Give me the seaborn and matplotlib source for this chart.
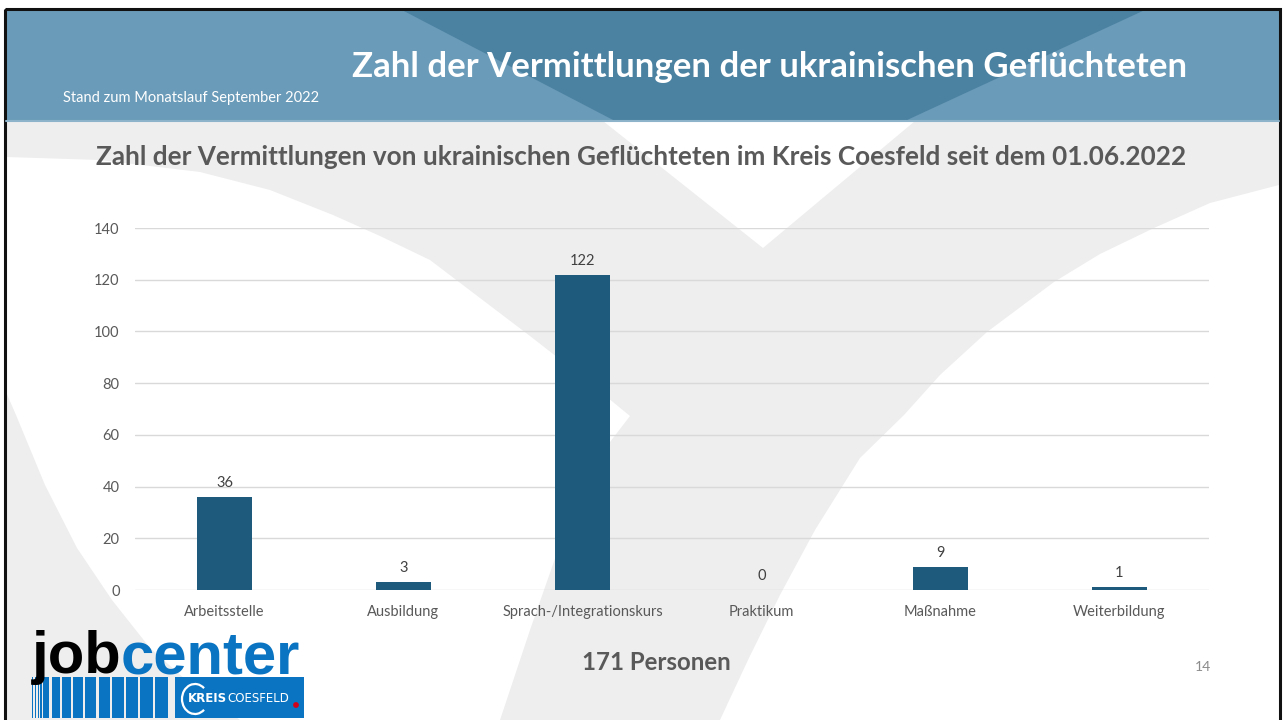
import numpy as np
import pandas as pd
import matplotlib
matplotlib.use("Agg")
import matplotlib.pyplot as plt
from matplotlib.patches import Polygon, Rectangle, Arc, Circle
import seaborn as sns

# data
categories = ["Arbeitsstelle", "Ausbildung", "Sprach-/Integrationskurs",
              "Praktikum", "Maßnahme", "Weiterbildung"]
values = [36, 3, 122, 0, 9, 1]
y_ticks = [0, 20, 40, 60, 80, 100, 120, 140]

header_title = "Zahl der Vermittlungen der ukrainischen Geflüchteten"
header_sub = "Stand zum Monatslauf September 2022"
chart_title = "Zahl der Vermittlungen von ukrainischen Geflüchteten im Kreis Coesfeld seit dem 01.06.2022"
total_label = "171 Personen"
page_no = "14"

W, H = 1284, 720
bar_color = "#1e5a7b"
text_gray = "#595959"

sns.set_theme(style="white")
plt.rcParams["font.family"] = ["Lato", "DejaVu Sans"]

fig = plt.figure(figsize=(W / 100, H / 100), dpi=100)
fig.patch.set_facecolor("white")

# background layer in pixel coordinates (y downwards)
bg = fig.add_axes([0, 0, 1, 1], zorder=0)
bg.set_xlim(0, W)
bg.set_ylim(H, 0)
bg.axis("off")

gray = "#eeeeee"
# big swoosh: top-left arm, V notch, right arm
swoosh = [(6, 121), (603, 121), (763, 248), (915, 121), (1279, 121), (1279, 185),
          (1210, 203), (1154, 228), (1100, 254), (1054, 282), (987, 332), (940, 375),
          (904, 415), (860, 458), (815, 530), (780, 595), (748, 660), (720, 720),
          (500, 720), (530, 630), (565, 530), (600, 455), (630, 416),
          (580, 375), (530, 336), (480, 298), (430, 260), (380, 236), (333, 215),
          (270, 190), (200, 172), (100, 160), (6, 157)]
bg.add_patch(Polygon(swoosh, closed=True, facecolor=gray, edgecolor="none"))
lower_left = [(6, 392), (16, 415), (45, 485), (77, 548), (112, 600), (150, 648),
              (195, 688), (240, 720), (6, 720)]
bg.add_patch(Polygon(lower_left, closed=True, facecolor=gray, edgecolor="none"))

# header band
bg.add_patch(Rectangle((6, 9), 1273, 112, facecolor="#6a9bb8", edgecolor="none"))
bg.add_patch(Polygon([(400, 9), (1147, 9), (905, 121), (615, 121)], closed=True,
                     facecolor="#4b82a1", edgecolor="none"))
bg.plot([6, 1279], [120.5, 120.5], color="#8db3ca", lw=1.5)

# slide frame
bg.add_patch(Rectangle((5, 9), 1275, 715, facecolor="none", edgecolor="#111111", lw=2.2))

# logo: striped banner + blue plate
logo_blue = "#0a74c2"
x = 32
for w in [1.2, 1.2, 1.2, 1.5]:
    bg.add_patch(Rectangle((x, 677), w, 41, facecolor=logo_blue, edgecolor="none"))
    x += w + 1.6
for w in [6, 8, 9, 10, 11, 11, 12, 12, 13, 13]:
    if x + w > 173:
        w = 173 - x
    bg.add_patch(Rectangle((x, 677), w, 41, facecolor=logo_blue, edgecolor="none"))
    x += w + 2.2
bg.add_patch(Rectangle((175, 677), 129, 41, facecolor=logo_blue, edgecolor="none"))
bg.add_patch(Arc((195, 699), 26, 30, theta1=50, theta2=310, color="white", lw=1.6))
bg.add_patch(Circle((296, 705), 2.2, color="#d0021b"))


def px(xp, yp):
    return xp / W, 1 - yp / H


renderer = fig.canvas.get_renderer()
t_job = fig.text(*px(32, 673), "job", fontsize=43, fontweight="bold",
                 color="black", family="Liberation Sans", va="baseline")
bb = t_job.get_window_extent(renderer)
fig.text(bb.x1 / W - 0.001, 1 - 673 / H, "center", fontsize=43, fontweight="bold",
         color=logo_blue, family="Liberation Sans", va="baseline")
t_kreis = fig.text(*px(188, 699), "KREIS", fontsize=8.5, fontweight="bold",
                   color="white", va="center", family="Liberation Sans Narrow")
bb = t_kreis.get_window_extent(renderer)
fig.text(bb.x1 / W, 1 - 699 / H, "COESFELD", fontsize=8.5, color="white",
         va="center", family="Liberation Sans Narrow")

# header and titles
fig.text(*px(770, 67), header_title, fontsize=25, fontweight="bold", color="white",
         ha="center", va="center")
fig.text(*px(63, 98), header_sub, fontsize=10.5, color="white", ha="left", va="center")
fig.text(*px(641, 157), chart_title, fontsize=18.8, fontweight="bold", color=text_gray,
         ha="center", va="center")
fig.text(*px(656, 663), total_label, fontsize=17.3, fontweight="bold", color=text_gray,
         ha="center", va="center")
fig.text(*px(1203, 667), page_no, fontsize=10, color="#8c8c8c", ha="center", va="center")

# the chart itself
df = pd.DataFrame({"Kategorie": categories, "Anzahl": values})
ax = fig.add_axes([135 / W, 1 - 590 / H, (1209 - 135) / W, (590 - 228) / H], zorder=2)
ax.patch.set_alpha(0)
sns.barplot(data=df, x="Kategorie", y="Anzahl", color=bar_color, width=0.31,
            saturation=1, linewidth=0, ax=ax, zorder=3)
ax.bar_label(ax.containers[0], labels=[str(v) for v in values], padding=5,
             fontsize=10.5, color="#404040")
ax.set_ylim(0, 140)
ax.set_xlim(-0.5, len(categories) - 0.5)
ax.set_yticks(y_ticks)
ax.yaxis.grid(True, color="#d9d9d9", lw=1)
ax.set_axisbelow(True)
for s in ax.spines.values():
    s.set_visible(False)
ax.set_xlabel("")
ax.set_ylabel("")
ax.tick_params(axis="both", length=0, labelsize=10.5, labelcolor=text_gray)
ax.tick_params(axis="y", pad=11)
ax.tick_params(axis="x", pad=11)

fig.savefig("out.png", dpi=100)
